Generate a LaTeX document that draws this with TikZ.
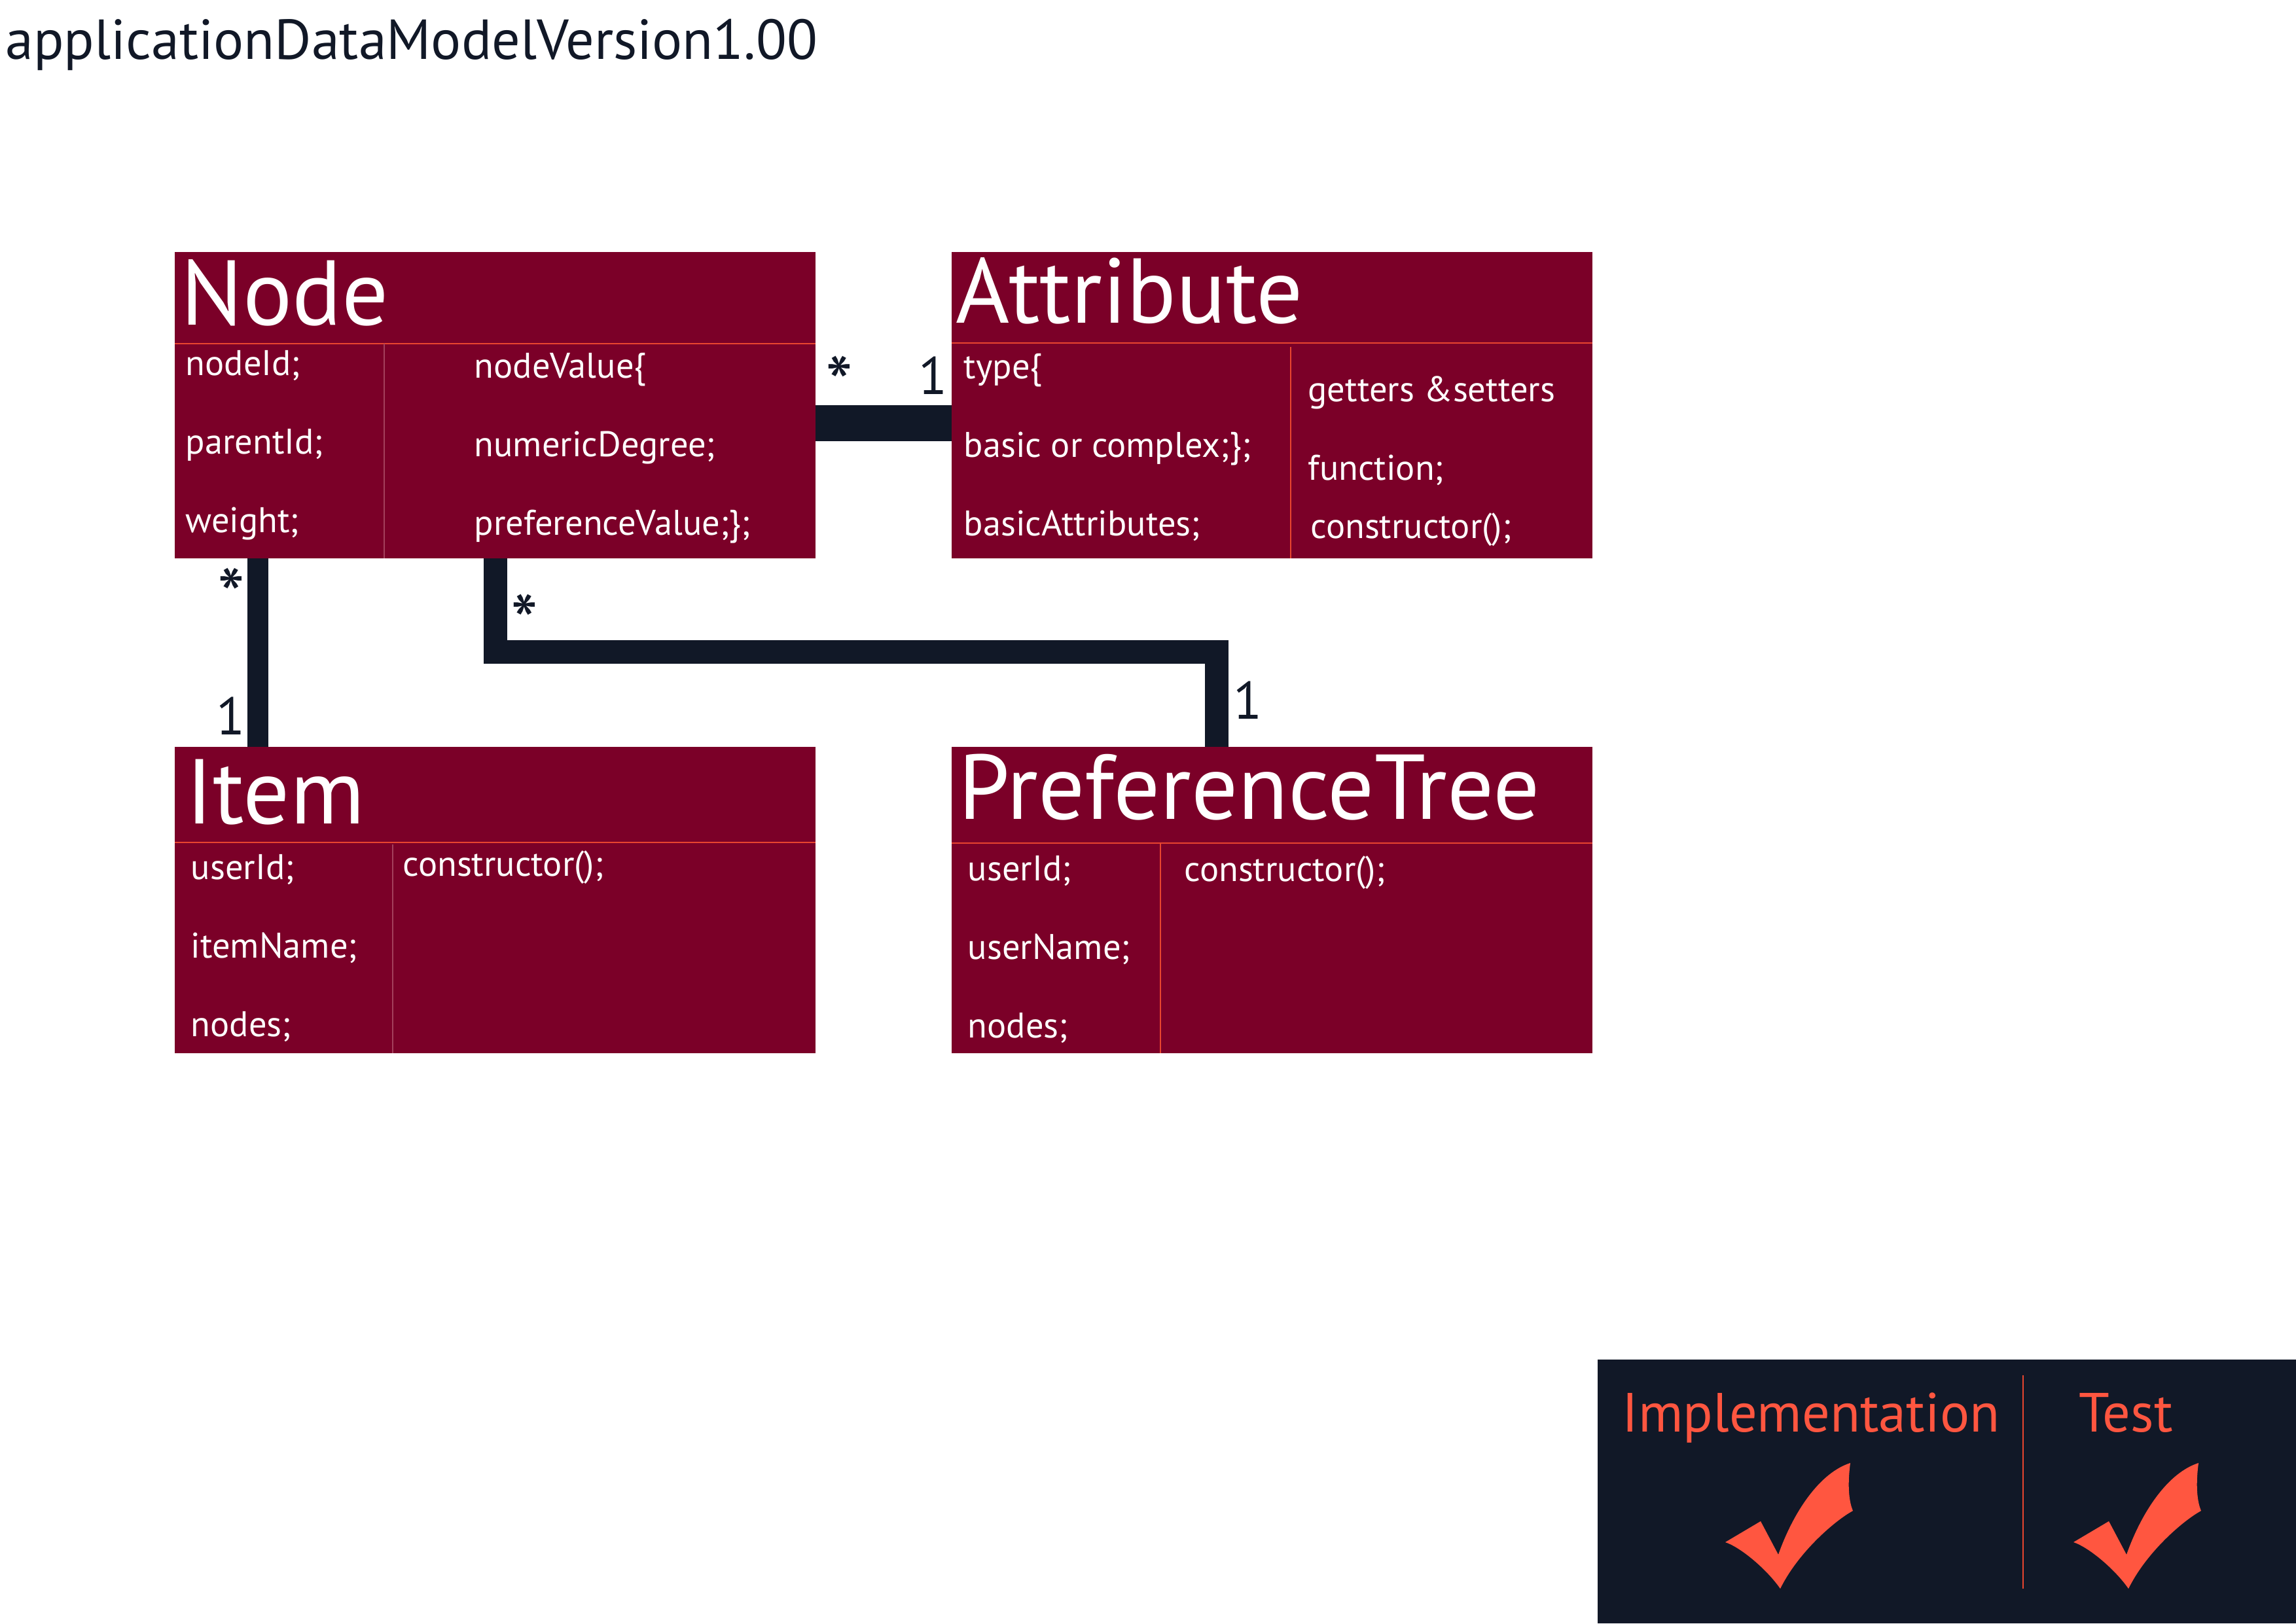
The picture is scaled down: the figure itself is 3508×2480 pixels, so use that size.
\documentclass[tikz,border=0pt]{standalone}
\usepackage{fontspec}
\setmainfont{PT Sans}
\usepackage{xcolor,tikz}

\definecolor{classred}{HTML}{7B0028}
\definecolor{navy}{HTML}{111827}
\definecolor{tomato}{HTML}{FF5640}
\definecolor{seprule}{HTML}{E8452F}
\definecolor{faintrule}{HTML}{A3405C}

\begin{document}
\begin{tikzpicture}[x=0.1mm,y=-0.1mm,
  classbox/.style={fill=classred,minimum width=97.9mm,minimum height=46.8mm,anchor=north west,inner sep=0pt,outer sep=0pt},
  classname/.style={anchor=base west,inner sep=0pt,text=white,font=\fontsize{40}{44}\selectfont},
  field/.style={anchor=base west,inner sep=0pt,text=white,font=\fontsize{15.5}{18}\selectfont},
  heading/.style={anchor=base west,inner sep=0pt,text=navy,font=\fontsize{24.5}{28}\selectfont},
  mult/.style={anchor=base,inner sep=0pt,text=navy,font=\fontsize{23}{26}\selectfont},
  star/.style={anchor=north,inner sep=0pt,text=navy,font=\fontsize{34}{38}\selectfont},
  status/.style={anchor=base west,inner sep=0pt,text=tomato,font=\fontsize{24}{28}\selectfont},
  link/.style={draw=navy,line width=#1},
  titlerule/.style={draw=seprule,line width=0.25mm},
  colrule/.style={draw=faintrule,line width=0.2mm}]
\useasboundingbox (0,0) rectangle (3508,2480);
\node[heading] (caption) at (8,90) {applicationDataModelVersion1.00};
% class boxes
\node[classbox] (nd) at (267,385) {};
\node[classbox] (attr) at (1454,385) {};
\node[classbox] (item) at (267,1141) {};
\node[classbox] (ptree) at (1454,1141) {};
\node[classname] (nd-name) at (276,496) {Node};
\node[classname] (attr-name) at (1460,493) {Attribute};
\node[classname] (item-name) at (284,1258) {Item};
\node[classname] (ptree-name) at (1464,1251) {PreferenceTree};
\draw[titlerule] (nd.west |- 0,525) -- (nd.east |- 0,525);
\draw[titlerule] (attr.west |- 0,524) -- (attr.east |- 0,524);
\draw[titlerule] (item.west |- 0,1287) -- (item.east |- 0,1287);
\draw[titlerule] (ptree.west |- 0,1288) -- (ptree.east |- 0,1288);
\draw[colrule] (587,525) -- (nd.south -| 587,0);
\draw[titlerule] (1972,530) -- (attr.south -| 1972,0);
\draw[colrule] (600,1290) -- (item.south -| 600,0);
\draw[titlerule] (1773,1288) -- (ptree.south -| 1773,0);
% fields
\foreach \t [count=\i from 0] in {nodeId;,parentId;,weight;}
  \node[field] (nd-a\i) at (283,573+120*\i) {\t};
\foreach \t [count=\i from 0] in {nodeValue\{,numericDegree;,preferenceValue;\};}
  \node[field] (nd-b\i) at (724,577+120*\i) {\t};
\foreach \t [count=\i from 0] in {type\{,basic or complex;\};,basicAttributes;}
  \node[field] (attr-a\i) at (1472,578+120*\i) {\t};
\node[field] (attr-b0) at (1998,613) {getters \&setters};
\node[field] (attr-b1) at (1998,733) {function;};
\node[field] (attr-b2) at (2002,822) {constructor();};
\foreach \t [count=\i from 0] in {userId;,itemName;,nodes;}
  \node[field] (item-a\i) at (291,1343+120*\i) {\t};
\node[field] (item-b0) at (615,1338) {constructor();};
\foreach \t [count=\i from 0] in {userId;,userName;,nodes;}
  \node[field] (ptree-a\i) at (1478,1345+120*\i) {\t};
\node[field] (ptree-b0) at (1809,1346) {constructor();};
% associations
\draw[link=5.5mm] (nd.east |- 0,646) -- (attr.west |- 0,646);
\draw[link=3.2mm] (nd.south -| 394,0) -- (item.north -| 394,0);
\draw[link=3.6mm] (nd.south) |- (1859,996) -- (ptree.north -| 1859,0);
\node[star] (m-na) at (1282,543) {*};
\node[mult] (m-an) at (1426,602) {1};
\node[star] (m-ni) at (353,867) {*};
\node[mult] (m-in) at (353,1122) {1};
\node[star] (m-np) at (801,907) {*};
\node[mult] (m-pn) at (1906,1098) {1};
% status panel
\fill[navy] (2441,2077) rectangle (3508,2480);
\draw[titlerule] (3091,2101) -- (3091,2427);
\node[status] (impl) at (2478,2187) {Implementation};
\node[status] (test) at (3176,2187) {Test};
\foreach \dx in {0,532}
  \fill[tomato,shift={(\dx,0)}] (2717,2375) .. controls (2740,2310) and (2780,2250) .. (2827,2235)
    .. controls (2823,2265) and (2824,2292) .. (2831,2308)
    .. controls (2805,2322) and (2748,2370) .. (2720,2427)
    .. controls (2700,2398) and (2660,2364) .. (2636,2356)
    -- (2690,2324) -- cycle;
\end{tikzpicture}
\end{document}
